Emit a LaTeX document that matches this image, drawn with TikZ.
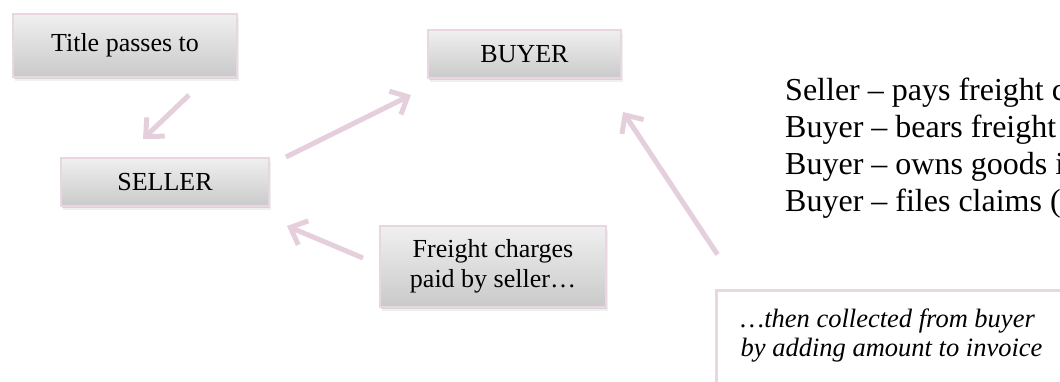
\documentclass[tikz,border=0pt]{standalone}
\usepackage{fontspec}
\setmainfont{Liberation Serif}
\usetikzlibrary{arrows.meta,shadows}

\definecolor{mauve}{RGB}{229,207,221}
\definecolor{mauveedge}{RGB}{233,214,226}

\tikzset{
  stepbox/.style={
    draw=mauveedge, line width=2pt,
    top color=black!6, bottom color=black!21,
    drop shadow={shadow xshift=1pt, shadow yshift=-2pt, opacity=.22},
    drop shadow={shadow xshift=1.5pt, shadow yshift=-4pt, opacity=.12},
    inner sep=0pt, align=center,
    font=\fontsize{26}{30}\selectfont},
  flow/.style={
    draw=mauve, line width=5pt,
    -{Straight Barb[length=14pt,width=26pt]}},
  terms/.style={
    inner sep=0pt, align=left,
    font=\fontsize{32}{36.8}\selectfont},
  notetext/.style={
    inner xsep=24pt, inner ysep=18pt, align=left,
    font=\itshape\fontsize{26.5}{29.5}\selectfont},
  noteframe/.style={draw=mauveedge, line width=3pt, line join=miter}
}

\begin{document}
\begin{tikzpicture}[x=1pt, y=-1pt]
  \useasboundingbox (0,0) rectangle (1060,381);
  \clip (0,0) rectangle (1060,381);
  \fill[white] (0,0) rectangle (1060,381);

  % gradient boxes
  \node[stepbox, minimum width=224pt, minimum height=63pt] (title)   at (125,45.5)  {Title passes to};
  \node[stepbox, minimum width=208pt, minimum height=48pt] (seller)  at (165,182)   {SELLER};
  \node[stepbox, minimum width=193pt, minimum height=48pt] (buyer)   at (524.5,54)  {BUYER};
  \node[stepbox, minimum width=226pt, minimum height=81pt] (freight) at (493,266.5) {Freight charges\\paid by seller…};

  % list of duties on the right
  \node[terms, anchor=north west] (duties) at (785,78)
    {Seller – pays freight c\\Buyer – bears freight\\Buyer – owns goods i\\Buyer – files claims (};

  % note box in the lower right corner
  \node[notetext, anchor=north west] (note) at (716.5,290.5)
    {…then collected from buyer\\by adding amount to invoice};
  \draw[noteframe] ([yshift=-200pt]note.north west) -- (note.north west) -- ([xshift=500pt]note.north west);

  % connectors
  \draw[flow] ([xshift=64pt,yshift=-17pt]title.south) -- ([xshift=-22pt,yshift=18pt]seller.north);
  \draw[flow] ([xshift=16pt]seller.north east) -- ([xshift=-16pt,yshift=-16pt]buyer.south west);
  \draw[flow] ([xshift=-16pt,yshift=8.5pt]freight.west) -- ([xshift=17pt,yshift=-19pt]seller.south east);
  \draw[flow] ([xshift=1pt,yshift=36pt]note.north west) -- ([xshift=1pt,yshift=-33pt]buyer.south east);
\end{tikzpicture}
\end{document}
